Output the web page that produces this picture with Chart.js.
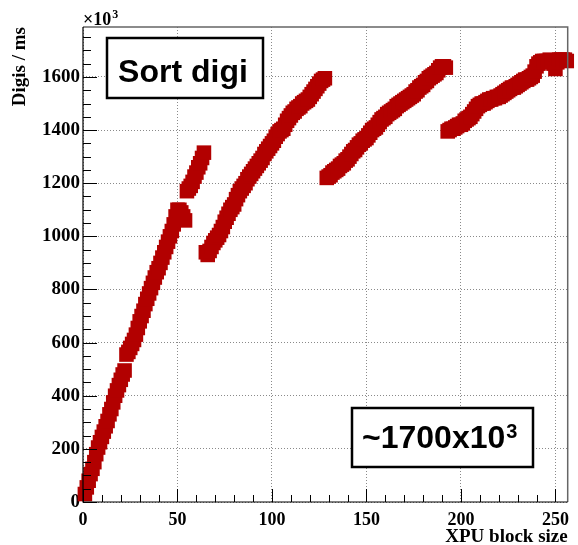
<!DOCTYPE html>
<html>
<head>
<meta charset="utf-8">
<script src="https://cdn.jsdelivr.net/npm/chart.js@4/dist/chart.umd.min.js"></script>
<style>
  html, body { margin: 0; padding: 0; background: #fff; }
  #myChart { display: block; }
</style>
</head>
<body>
<canvas id="myChart" width="578" height="545"></canvas>
<script>
// digis per ms (x10^3) for each XPU block size, split where the curve jumps
const firstBlock = [1, 55, 65, 129, 193];
const rateSeg1 = [30,55,80,105,125,150,180,205,225,245,
                  265,285,305,330,350,375,400,420,440,460,
                  480,495,555,565,580,595,610,630,655,680,
                  700,720,745,765,785,805,825,845,865,880,
                  900,920,940,960,980,1000,1020,1045,1075,1100,
                  1100,1090,1075,1060];
const rateSeg2 = [1170,1180,1190,1205,1225,1240,1260,1275,1295,1315];
const rateSeg3 = [940,930,945,960,975,985,995,1005,1020,1035,
                  1055,1070,1085,1100,1110,1120,1140,1155,1170,1180,
                  1190,1200,1215,1225,1235,1245,1255,1265,1275,1285,
                  1295,1310,1320,1330,1340,1350,1360,1375,1385,1395,
                  1400,1405,1420,1435,1445,1455,1465,1470,1480,1485,
                  1490,1500,1505,1510,1515,1525,1535,1545,1555,1565,
                  1575,1585,1590,1595];
const rateSeg4 = [1220,1225,1230,1240,1245,1250,1255,1265,1270,1275,
                  1285,1290,1300,1310,1320,1325,1335,1345,1350,1360,
                  1365,1370,1380,1390,1400,1405,1410,1420,1430,1440,
                  1445,1450,1460,1465,1470,1475,1480,1490,1495,1500,
                  1505,1510,1515,1520,1525,1530,1535,1545,1550,1560,
                  1565,1570,1580,1585,1595,1600,1605,1610,1615,1625,
                  1635,1640,1640,1635];
const rateSeg5 = [1395,1400,1405,1405,1410,1415,1420,1420,1425,1435,
                  1440,1445,1450,1460,1470,1480,1490,1495,1500,1500,
                  1505,1510,1515,1515,1520,1520,1525,1525,1530,1535,
                  1540,1545,1550,1555,1560,1560,1565,1570,1575,1580,
                  1585,1590,1590,1595,1600,1605,1620,1640,1650,1655,
                  1660,1660,1660,1660,1665,1660,1650,1630,1655,1665,
                  1665,1665,1665,1660];

const xTicks = [0, 50, 100, 150, 200, 250];
const yTicks = [0, 200, 400, 600, 800, 1000, 1200, 1400, 1600];

const segments = [rateSeg1, rateSeg2, rateSeg3, rateSeg4, rateSeg5];
const points = [];
segments.forEach(function (seg, s) {
    seg.forEach(function (v, i) {
        points.push({ x: firstBlock[s] + i, y: v });
    });
});

const red = "#b20000";
const serif = "'Liberation Serif', 'DejaVu Serif', serif";
const sans = "'Liberation Sans', Arial, sans-serif";

// ROOT style frame: inside ticks, frame, text boxes
const rootFrame = {
    id: "rootFrame",
    afterDraw: function (chart) {
        const ctx = chart.ctx;
        const a = chart.chartArea;
        const xs = chart.scales.x, ys = chart.scales.y;
        ctx.save();
        ctx.strokeStyle = "#000";
        ctx.lineWidth = 1;
        ctx.beginPath();
        for (let v = 0; v <= xs.max; v += 10) {
            const px = Math.round(xs.getPixelForValue(v)) + 0.5;
            const len = (v % 50 === 0) ? 13 : 7;
            ctx.moveTo(px, a.bottom);
            ctx.lineTo(px, a.bottom - len);
        }
        for (let v = 0; v <= ys.max; v += 50) {
            const py = Math.round(ys.getPixelForValue(v)) + 0.5;
            const len = (v % 200 === 0) ? 14 : 8;
            ctx.moveTo(a.left, py);
            ctx.lineTo(a.left + len, py);
        }
        ctx.stroke();

        // frame top/right
        ctx.strokeStyle = "#666";
        ctx.lineWidth = 1.5;
        ctx.beginPath();
        ctx.moveTo(a.left, a.top);
        ctx.lineTo(a.right, a.top);
        ctx.lineTo(a.right, a.bottom);
        ctx.stroke();
        ctx.strokeStyle = "#000";
        ctx.lineWidth = 1.2;
        ctx.beginPath();
        ctx.moveTo(a.left, a.top);
        ctx.lineTo(a.left, a.bottom);
        ctx.lineTo(a.right, a.bottom);
        ctx.stroke();

        // x10^3 exponent
        ctx.fillStyle = "#000";
        ctx.textBaseline = "alphabetic";
        ctx.textAlign = "left";
        ctx.font = "bold 18px " + serif;
        ctx.fillText("\u00d710", 83, 25);
        const ew = ctx.measureText("\u00d710").width;
        ctx.font = "bold 12px " + serif;
        ctx.fillText("3", 83 + ew + 1, 18);

        // text boxes
        ctx.fillStyle = "#fff";
        ctx.strokeStyle = "#000";
        ctx.lineWidth = 2.5;
        ctx.fillRect(107, 38, 156, 60);
        ctx.strokeRect(107, 38, 156, 60);
        ctx.fillRect(352, 408, 181, 59);
        ctx.strokeRect(352, 408, 181, 59);

        ctx.fillStyle = "#000";
        ctx.font = "bold 32px " + sans;
        ctx.textAlign = "center";
        ctx.fillText("Sort digi", 183, 82);
        ctx.textAlign = "left";
        ctx.font = "bold 32px " + sans;
        ctx.fillText("~1700x10", 362, 448);
        const w = ctx.measureText("~1700x10").width;
        ctx.font = "bold 20px " + sans;
        ctx.fillText("3", 362 + w + 1, 438);
        ctx.restore();
    }
};

new Chart("myChart", {
    type: "scatter",
    data: {
        datasets: [{
            data: points,
            backgroundColor: red,
            borderColor: red,
            borderWidth: 0,
            pointStyle: "rect",
            pointRadius: 10.3,
            pointHoverRadius: 10.3,
            clip: false
        }]
    },
    options: {
        responsive: false,
        animation: false,
        events: [],
        layout: { padding: { left: 0, top: 27, right: 4, bottom: 0 } },
        plugins: {
            legend: { display: false },
            tooltip: { enabled: false }
        },
        scales: {
            x: {
                type: "linear",
                min: 0,
                max: 256.5,
                afterFit: function (s) { s.height = 43; },
                afterBuildTicks: function (s) { s.ticks = xTicks.map(function (v) { return { value: v }; }); },
                grid: { color: "#8a8a8a", lineWidth: 1, drawTicks: false },
                border: { display: false, dash: [1, 2] },
                ticks: {
                    color: "#000", padding: 8, maxRotation: 0,
                    font: { family: serif, size: 18, weight: "bold" },
                    callback: function (v) { return String(v); }
                },
                title: {
                    display: true, text: "XPU block size", align: "end", color: "#000",
                    font: { family: serif, size: 19, weight: "bold", lineHeight: 0.8 },
                    padding: { top: 0, bottom: 0 }
                }
            },
            y: {
                type: "linear",
                min: 0,
                max: 1788,
                afterFit: function (s) { s.width = 83; },
                afterBuildTicks: function (s) { s.ticks = yTicks.map(function (v) { return { value: v }; }); },
                grid: { color: "#8a8a8a", lineWidth: 1, drawTicks: false },
                border: { display: false, dash: [1, 2] },
                ticks: {
                    color: "#000", padding: 3,
                    font: { family: serif, size: 19, weight: "bold" },
                    callback: function (v) { return String(v); }
                },
                title: {
                    display: true, text: "Digis / ms", align: "end", color: "#000",
                    font: { family: serif, size: 19, weight: "bold", lineHeight: 1 },
                    padding: { top: 11, bottom: 0 }
                }
            }
        }
    },
    plugins: [rootFrame]
});
</script>
</body>
</html>
